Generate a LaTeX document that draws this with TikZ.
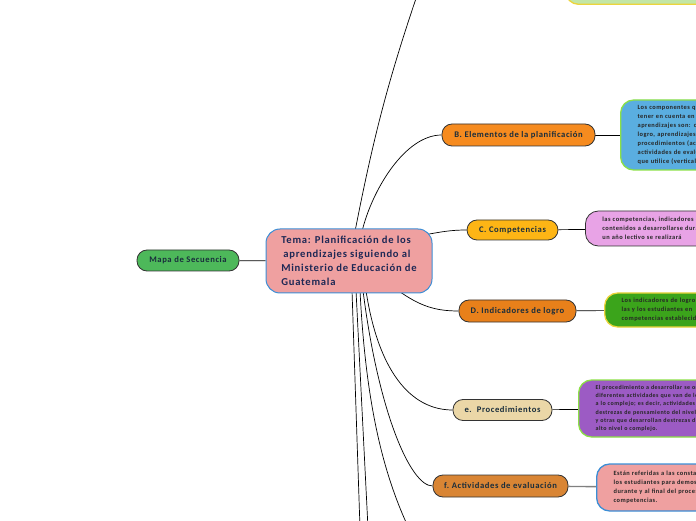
\documentclass[tikz,border=0pt]{standalone}
\usepackage{fontspec}
\setmainfont[LetterSpace=7]{Carlito}
\usetikzlibrary{backgrounds}

\definecolor{txtdark}{RGB}{25,45,60}
\definecolor{temanavy}{RGB}{30,40,85}
\definecolor{mapagreen}{RGB}{77,184,90}
\definecolor{temapink}{RGB}{239,160,160}
\definecolor{temablue}{RGB}{59,142,214}
\definecolor{borange}{RGB}{246,139,31}
\definecolor{cyellow}{RGB}{253,181,21}
\definecolor{dorange}{RGB}{232,128,26}
\definecolor{ebeige}{RGB}{235,215,167}
\definecolor{fbrown}{RGB}{217,133,52}
\definecolor{noteblue}{RGB}{90,174,224}
\definecolor{notelilac}{RGB}{232,163,230}
\definecolor{notegreen}{RGB}{59,164,27}
\definecolor{notepurple}{RGB}{156,91,196}
\definecolor{notelight}{RGB}{195,230,166}
\definecolor{limeline}{RGB}{140,224,70}
\definecolor{yellowline}{RGB}{236,212,60}

\begin{document}
\begin{tikzpicture}[x=1pt,y=1pt]

                \tikzset{subtopic/.style = {shape=rectangle,rounded corners=10pt,draw=black!80,line width=0.8pt,minimum height=21pt,font=\bfseries\fontsize{8.6}{9}\selectfont,text=txtdark}}
                \tikzset{notebox/.style = {shape=rectangle,rounded corners=13pt,line width=1.3pt,anchor=west,align=left,text width=240pt,inner xsep=17pt,font=\bfseries\fontsize{6.4}{9}\selectfont,text=black!85}}
                \tikzset{link/.style = {draw=black,line width=0.7pt}}
                \useasboundingbox (0,0) rectangle (696,520);

                \node[subtopic,fill=mapagreen,minimum width=102pt] (mapa) at (188,259.5) {Mapa de Secuencia};
                \node[shape=rectangle,rounded corners=14pt,fill=temapink,draw=temablue,line width=1pt,minimum width=166pt,minimum height=64pt,align=left,text=temanavy,font=\bfseries\fontsize{10.6}{13.8}\selectfont] (tema) at (349,259) {Tema: Planificación de los\\\hspace{2pt}aprendizajes siguiendo al\\Ministerio de Educación de\\Guatemala};

                \node[subtopic,fill=borange,minimum width=153pt,minimum height=22pt] (elementos) at (518.5,385) {B. Elementos de la planificación};
                \node[subtopic,fill=cyellow,minimum width=91pt,minimum height=20pt] (competencias) at (512.5,290) {C. Competencias};
                \node[subtopic,fill=dorange,minimum width=117pt,minimum height=22pt] (indicadores) at (517.5,209) {D. Indicadores de logro};
                \node[subtopic,fill=ebeige,minimum width=99pt] (procedimientos) at (502.5,110) {e.\ \ Procedimientos};
                \node[subtopic,fill=fbrown,minimum width=135pt,minimum height=22pt] (actividades) at (500.5,34) {f.\ Actividades de evaluación};

                \node[notebox,fill=notelight,draw=yellowline,anchor=south west,minimum height=40pt] (notaarriba) at (565,515) {};
                \node[notebox,fill=noteblue,draw=limeline,minimum height=70pt] (notaB) at (620,385) {Los componentes que se deben\\tener en cuenta en la planificación\\aprendizajes son: competencias,\\logro, aprendizajes esperados\\procedimientos (actividades)\\actividades de evaluación\\que utilice (vertical)};
                \node[notebox,fill=notelilac,draw=black!80,line width=0.8pt,minimum height=35pt] (notaC) at (585,291.5) {las competencias, indicadores de logro\\contenidos a desarrollarse durante\\un año lectivo se realizará};
                \node[notebox,fill=notegreen,draw=yellowline,minimum height=34pt] (notaD) at (604,210) {Los indicadores de logro\\las y los estudiantes en\\competencias establecidas};
                \node[notebox,fill=notepurple,draw=limeline,minimum height=57pt,font=\bfseries\fontsize{6}{8.3}\selectfont] (notaE) at (578,111.5) {El procedimiento a desarrollar se organiza\\diferentes actividades que van de lo simple\\a lo complejo; es decir, actividades que\\destrezas de pensamiento del nivel bajo\\y otras que desarrollan destrezas de\\alto nivel o complejo.};
                \node[notebox,fill=temapink,draw=temablue,minimum height=47pt] (notaF) at (596,32.5) {Están referidas a las constataciones\\los estudiantes para demostrar\\durante y al final del proceso\\competencias.};

                \coordinate (arriba) at (424,545);
                \coordinate (abajo1) at (360,-8);
                \coordinate (abajo2) at (368,-8);
                \coordinate (abajo3) at (412,-15);

                \begin{scope}[on background layer]
                \draw[link] (mapa) -- (tema);
                \draw[link] ([xshift=6pt,yshift=-3pt]tema.north) to[bend left=4] (arriba);
                \draw[link] ([xshift=13pt,yshift=-3pt]tema.north) .. controls (372,330) and (405,385) .. (elementos.west);
                \draw[link] ([xshift=-6pt,yshift=-6pt]tema.north east) to[out=10,in=180] (competencias.west);
                \draw[link] ([xshift=49pt,yshift=3pt]tema.south) .. controls (420,214) and (435,209) .. (indicadores.west);
                \draw[link] ([xshift=17pt,yshift=3pt]tema.south) .. controls (378,150) and (410,110) .. (procedimientos.west);
                \draw[link] ([xshift=14pt,yshift=3pt]tema.south) .. controls (378,110) and (410,34) .. (actividades.west);
                \draw[link] ([xshift=3pt,yshift=3pt]tema.south) -- (abajo1);
                \draw[link] ([xshift=7pt,yshift=3pt]tema.south) -- (abajo2);
                \draw[link] ([xshift=11pt,yshift=3pt]tema.south) .. controls (366,110) and (385,40) .. (abajo3);
                \draw[link] (elementos) -- (notaB);
                \draw[link] (competencias) -- (notaC);
                \draw[link] (indicadores) -- (notaD);
                \draw[link] (procedimientos) -- (notaE);
                \draw[link,draw=black!50,line width=1.4pt] (actividades) -- (notaF);
                \end{scope}
            \end{tikzpicture}
\end{document}
